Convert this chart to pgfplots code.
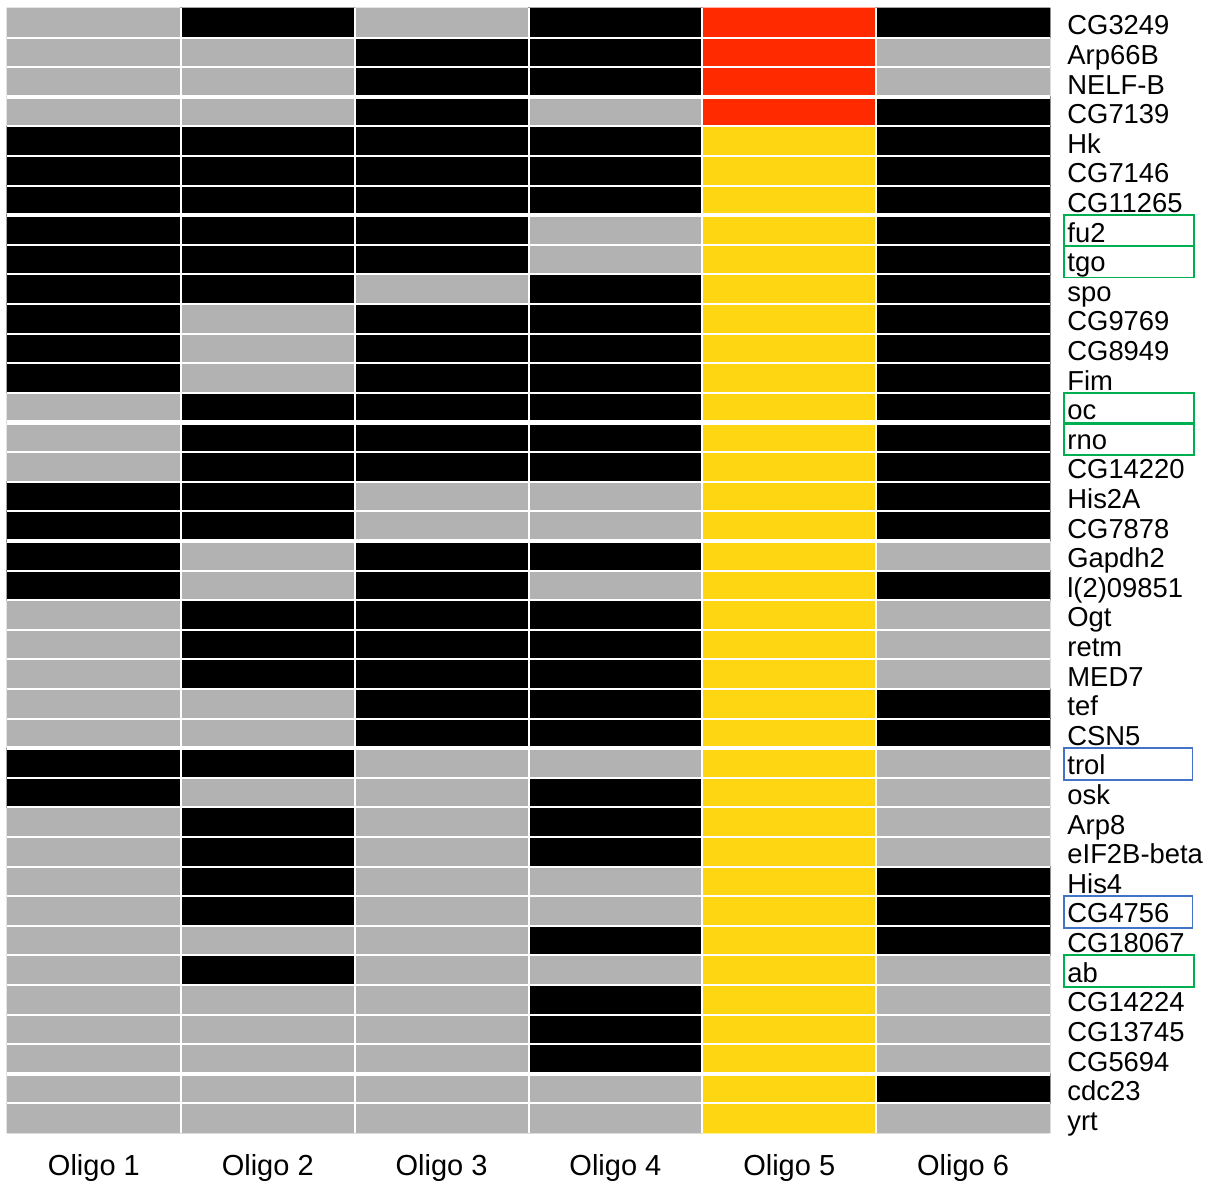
\documentclass[border=0pt]{standalone}
\usepackage{pgfplots}
\pgfplotsset{compat=1.18}
\usepackage{fontspec}
\setmainfont{Liberation Sans}
\definecolor{boxgreen}{RGB}{0,176,80}
\definecolor{boxblue}{RGB}{68,114,196}
\begin{document}
\begin{tikzpicture}
\path[use as bounding box] (-3.5pt,-26pt) rectangle (604pt,566.5pt);
\begin{axis}[
  scale only axis, width=521.5pt, height=562.5pt,
  xmin=0.5, xmax=6.5, ymin=0.5, ymax=38.5, y dir=reverse,
  axis line style={draw=none}, tick style={draw=none}, major tick length=0pt,
  colormap={hm}{rgb255=(178,178,178) rgb255=(0,0,0) rgb255=(255,42,0) rgb255=(254,214,18)},
  xtick={1,...,6},
  xticklabels={Oligo 1,Oligo 2,Oligo 3,Oligo 4,Oligo 5,Oligo 6},
  xticklabel style={font=\fontsize{14.5}{17}\selectfont, anchor=base, yshift=-21pt},
  ytick={1,...,38},
  yticklabels={CG3249,Arp66B,NELF-B,CG7139,Hk,CG7146,CG11265,fu2,tgo,spo,CG9769,CG8949,Fim,oc,rno,CG14220,His2A,CG7878,Gapdh2,l(2)09851,Ogt,retm,MED7,tef,CSN5,trol,osk,Arp8,eIF2B-beta,His4,CG4756,CG18067,ab,CG14224,CG13745,CG5694,cdc23,yrt},
  yticklabel pos=right,
  yticklabel style={font=\fontsize{13.7}{16}\selectfont, anchor=base west, inner xsep=0pt, xshift=8.5pt, yshift=-6pt},
  minor xtick={1.5,2.5,3.5,4.5,5.5},
  minor ytick={1.5,2.5,...,37.5},
  grid=minor,
  minor grid style={white, line width=1pt},
  extra y ticks={3.5,7.5,14.5,18.5,25.5,36.5},
  extra y tick labels={},
  extra y tick style={grid=major, major grid style={white, line width=2.2pt}},
  axis on top,
  clip=false,
]
\addplot[matrix plot*, mesh/cols=6, point meta=explicit, colormap access=direct]
 table[meta=c, row sep=\\] {
x y c \\
1 1 0 \\ 2 1 1 \\ 3 1 0 \\ 4 1 1 \\ 5 1 2 \\ 6 1 1 \\
1 2 0 \\ 2 2 0 \\ 3 2 1 \\ 4 2 1 \\ 5 2 2 \\ 6 2 0 \\
1 3 0 \\ 2 3 0 \\ 3 3 1 \\ 4 3 1 \\ 5 3 2 \\ 6 3 0 \\
1 4 0 \\ 2 4 0 \\ 3 4 1 \\ 4 4 0 \\ 5 4 2 \\ 6 4 1 \\
1 5 1 \\ 2 5 1 \\ 3 5 1 \\ 4 5 1 \\ 5 5 3 \\ 6 5 1 \\
1 6 1 \\ 2 6 1 \\ 3 6 1 \\ 4 6 1 \\ 5 6 3 \\ 6 6 1 \\
1 7 1 \\ 2 7 1 \\ 3 7 1 \\ 4 7 1 \\ 5 7 3 \\ 6 7 1 \\
1 8 1 \\ 2 8 1 \\ 3 8 1 \\ 4 8 0 \\ 5 8 3 \\ 6 8 1 \\
1 9 1 \\ 2 9 1 \\ 3 9 1 \\ 4 9 0 \\ 5 9 3 \\ 6 9 1 \\
1 10 1 \\ 2 10 1 \\ 3 10 0 \\ 4 10 1 \\ 5 10 3 \\ 6 10 1 \\
1 11 1 \\ 2 11 0 \\ 3 11 1 \\ 4 11 1 \\ 5 11 3 \\ 6 11 1 \\
1 12 1 \\ 2 12 0 \\ 3 12 1 \\ 4 12 1 \\ 5 12 3 \\ 6 12 1 \\
1 13 1 \\ 2 13 0 \\ 3 13 1 \\ 4 13 1 \\ 5 13 3 \\ 6 13 1 \\
1 14 0 \\ 2 14 1 \\ 3 14 1 \\ 4 14 1 \\ 5 14 3 \\ 6 14 1 \\
1 15 0 \\ 2 15 1 \\ 3 15 1 \\ 4 15 1 \\ 5 15 3 \\ 6 15 1 \\
1 16 0 \\ 2 16 1 \\ 3 16 1 \\ 4 16 1 \\ 5 16 3 \\ 6 16 1 \\
1 17 1 \\ 2 17 1 \\ 3 17 0 \\ 4 17 0 \\ 5 17 3 \\ 6 17 1 \\
1 18 1 \\ 2 18 1 \\ 3 18 0 \\ 4 18 0 \\ 5 18 3 \\ 6 18 1 \\
1 19 1 \\ 2 19 0 \\ 3 19 1 \\ 4 19 1 \\ 5 19 3 \\ 6 19 0 \\
1 20 1 \\ 2 20 0 \\ 3 20 1 \\ 4 20 0 \\ 5 20 3 \\ 6 20 1 \\
1 21 0 \\ 2 21 1 \\ 3 21 1 \\ 4 21 1 \\ 5 21 3 \\ 6 21 0 \\
1 22 0 \\ 2 22 1 \\ 3 22 1 \\ 4 22 1 \\ 5 22 3 \\ 6 22 0 \\
1 23 0 \\ 2 23 1 \\ 3 23 1 \\ 4 23 1 \\ 5 23 3 \\ 6 23 0 \\
1 24 0 \\ 2 24 0 \\ 3 24 1 \\ 4 24 1 \\ 5 24 3 \\ 6 24 1 \\
1 25 0 \\ 2 25 0 \\ 3 25 1 \\ 4 25 1 \\ 5 25 3 \\ 6 25 1 \\
1 26 1 \\ 2 26 1 \\ 3 26 0 \\ 4 26 0 \\ 5 26 3 \\ 6 26 0 \\
1 27 1 \\ 2 27 0 \\ 3 27 0 \\ 4 27 1 \\ 5 27 3 \\ 6 27 0 \\
1 28 0 \\ 2 28 1 \\ 3 28 0 \\ 4 28 1 \\ 5 28 3 \\ 6 28 0 \\
1 29 0 \\ 2 29 1 \\ 3 29 0 \\ 4 29 1 \\ 5 29 3 \\ 6 29 0 \\
1 30 0 \\ 2 30 1 \\ 3 30 0 \\ 4 30 0 \\ 5 30 3 \\ 6 30 1 \\
1 31 0 \\ 2 31 1 \\ 3 31 0 \\ 4 31 0 \\ 5 31 3 \\ 6 31 1 \\
1 32 0 \\ 2 32 0 \\ 3 32 0 \\ 4 32 1 \\ 5 32 3 \\ 6 32 1 \\
1 33 0 \\ 2 33 1 \\ 3 33 0 \\ 4 33 0 \\ 5 33 3 \\ 6 33 0 \\
1 34 0 \\ 2 34 0 \\ 3 34 0 \\ 4 34 1 \\ 5 34 3 \\ 6 34 0 \\
1 35 0 \\ 2 35 0 \\ 3 35 0 \\ 4 35 1 \\ 5 35 3 \\ 6 35 0 \\
1 36 0 \\ 2 36 0 \\ 3 36 0 \\ 4 36 1 \\ 5 36 3 \\ 6 36 0 \\
1 37 0 \\ 2 37 0 \\ 3 37 0 \\ 4 37 0 \\ 5 37 3 \\ 6 37 1 \\
1 38 0 \\ 2 38 0 \\ 3 38 0 \\ 4 38 0 \\ 5 38 3 \\ 6 38 0 \\
};
\draw[boxgreen, line width=0.9pt] (axis cs:6.58,7.5) rectangle (axis cs:7.33,8.55);
\draw[boxgreen, line width=0.9pt] (axis cs:6.58,8.55) rectangle (axis cs:7.33,9.6);
\draw[boxgreen, line width=0.9pt] (axis cs:6.58,13.5) rectangle (axis cs:7.33,14.52);
\draw[boxgreen, line width=0.9pt] (axis cs:6.58,14.55) rectangle (axis cs:7.33,15.6);
\draw[boxgreen, line width=0.9pt] (axis cs:6.58,32.5) rectangle (axis cs:7.33,33.57);
\draw[boxblue, line width=0.9pt] (axis cs:6.58,25.5) rectangle (axis cs:7.32,26.58);
\draw[boxblue, line width=0.9pt] (axis cs:6.58,30.5) rectangle (axis cs:7.32,31.58);
\end{axis}
\end{tikzpicture}
\end{document}
